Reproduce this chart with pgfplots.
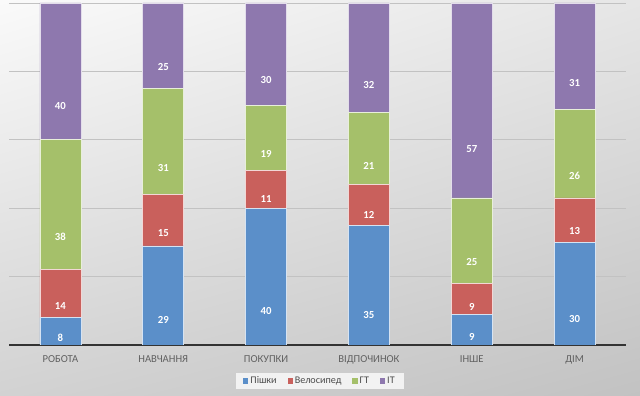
\documentclass[border=0pt]{standalone}
\usepackage{pgfplots}
\pgfplotsset{compat=1.18}
\usetikzlibrary{shadings}
\usepackage{fontspec}
\setmainfont{Carlito}
\definecolor{cBlue}{HTML}{5B8FC9}
\definecolor{cRed}{HTML}{C9605C}
\definecolor{cGreen}{HTML}{A5C06A}
\definecolor{cPurple}{HTML}{8E78AE}
\definecolor{bgA}{HTML}{FAFAFA}
\definecolor{bgB}{HTML}{E6E6E6}
\definecolor{bgC}{HTML}{D2D2D2}
\definecolor{bgD}{HTML}{C2C2C2}
\begin{document}
\begin{tikzpicture}
\useasboundingbox (0,0) rectangle (640bp,396bp);
\shade[upper left=bgA, upper right=bgB, lower left=bgC, lower right=bgD] (0,0) rectangle (640bp,396bp);
\begin{axis}[
  at={(9bp,51bp)}, anchor=south west,
  scale only axis, width=617bp, height=342bp,
  ybar stacked, bar width=41bp,
  xmin=-0.5, xmax=5.5, ymin=0, ymax=100,
  axis x line*=bottom, axis y line*=left,
  x axis line style={draw=black!80, line width=1.3pt, -},
  y axis line style={draw=none},
  xtick={0,...,5},
  xticklabels={РОБОТА,НАВЧАННЯ,ПОКУПКИ,ВІДПОЧИНОК,ІНШЕ,ДІМ},
  xtick style={draw=none},
  xticklabel style={font=\fontsize{10.7}{12}\selectfont, text=black!62, yshift=-7bp},
  ytick={20,40,60,80,100}, yticklabels={}, ytick style={draw=none},
  ymajorgrids, grid style={draw=black!24, line width=0.9pt},
  point meta=explicit symbolic,
  nodes near coords={\bfseries\fontsize{10.8}{12}\selectfont\pgfplotspointmeta},
  every node near coord/.append style={text=white, anchor=center, yshift={-\pgfplotspointmeta*0.855bp}},
  legend image code/.code={\path[#1, draw=none] (0bp,-2.6bp) rectangle (5.2bp,2.6bp);},
  legend style={at={(axis description cs:0.504,-0.105)}, anchor=center, legend columns=4,
    draw=none, fill=black!5, font=\fontsize{10.2}{11}\selectfont, text=black!70,
    inner xsep=7bp, inner ysep=2bp,
    /tikz/every even column/.append style={column sep=9bp}},
]
\addplot[fill=cBlue, draw=white!75!cBlue, line width=0.6pt] coordinates {(0,8)[8] (1,29)[29] (2,40)[40] (3,35)[35] (4,9)[9] (5,30)[30]};
\addplot[fill=cRed, draw=white!75!cRed, line width=0.6pt] coordinates {(0,14)[14] (1,15)[15] (2,11)[11] (3,12)[12] (4,9)[9] (5,13)[13]};
\addplot[fill=cGreen, draw=white!75!cGreen, line width=0.6pt] coordinates {(0,38)[38] (1,31)[31] (2,19)[19] (3,21)[21] (4,25)[25] (5,26)[26]};
\addplot[fill=cPurple, draw=white!75!cPurple, line width=0.6pt] coordinates {(0,40)[40] (1,25)[25] (2,30)[30] (3,32)[32] (4,57)[57] (5,31)[31]};
\legend{Пішки,Велосипед,ГТ,ІТ}
\end{axis}
\end{tikzpicture}
\end{document}
